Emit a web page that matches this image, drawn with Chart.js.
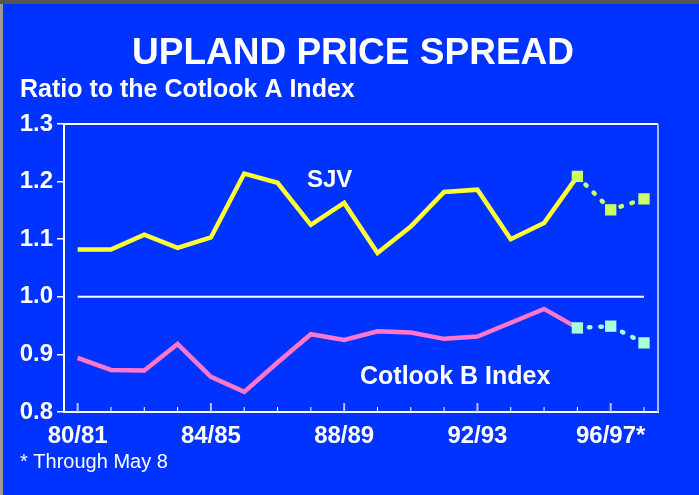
<!DOCTYPE html>
<html>
<head>
<meta charset="utf-8">
<script src="https://cdn.jsdelivr.net/npm/chart.js@4"></script>
<style>
  html, body { margin: 0; padding: 0; background: #0033ff; }
  canvas { display: block; }
</style>
</head>
<body>
<canvas id="chart" width="699" height="495"></canvas>
<script>
// sezone (marketinske godine)
const seasons = ['80/81', '81/82', '82/83', '83/84', '84/85', '85/86', '86/87', '87/88', '88/89',
                 '89/90', '90/91', '91/92', '92/93', '93/94', '94/95', '95/96', '96/97', '97/98'];
// oznake na x osi
const tickLabels = ['80/81', '', '', '', '84/85', '', '', '', '88/89',
                    '', '', '', '92/93', '', '', '', '96/97*', ''];

// omjer prema Cotlook A indeksu
const sjv = [1.082, 1.082, 1.108, 1.085, 1.103, 1.214, 1.198, 1.125, 1.163,
             1.076, 1.122, 1.182, 1.186, 1.100, 1.128, 1.209, 1.151, 1.170];
const cotlookB = [0.894, 0.873, 0.872, 0.918, 0.861, 0.835, 0.886, 0.935, 0.925,
                  0.940, 0.938, 0.927, 0.931, 0.955, 0.979, 0.946, 0.949, 0.920];

const parity = 1.0;
const projStart = 15; // od 95/96 dalje tockice

const WHITE = '#ffffff';
const BLUE = '#0033ff';
const FONT = '"Liberation Sans", Arial, Helvetica, sans-serif';

const toPts = (arr, from, to) => arr.slice(from, to).map((v, k) => ({ x: from + k, y: v }));

// tekstovi i okvir
const decorPlugin = {
    id: 'decor',
    beforeDraw(chart) {
        const ctx = chart.ctx;
        ctx.save();
        ctx.fillStyle = BLUE;
        ctx.fillRect(0, 0, chart.width, chart.height);
        ctx.fillStyle = '#9a9a9a';
        ctx.fillRect(0, 0, 3, chart.height);
        ctx.fillStyle = '#555555';
        ctx.fillRect(0, 0, chart.width, 4);
        ctx.restore();
    },
    afterDraw(chart) {
        const ctx = chart.ctx;
        const a = chart.chartArea;
        const x = chart.scales.x;
        ctx.save();
        // gornja i desna linija okvira
        ctx.strokeStyle = WHITE;
        ctx.lineWidth = 2;
        ctx.beginPath();
        ctx.moveTo(a.left, a.top);
        ctx.lineTo(a.right, a.top);
        ctx.stroke();
        ctx.strokeStyle = '#a8b4ff';
        ctx.beginPath();
        ctx.moveTo(a.right, a.top);
        ctx.lineTo(a.right, a.bottom);
        ctx.stroke();

        // crtice na x osi prema unutra
        seasons.forEach((s, i) => {
            const px = x.getPixelForValue(i);
            const len = tickLabels[i] ? 9 : 5;
            ctx.strokeStyle = tickLabels[i] ? '#b8c2ff' : WHITE;
            ctx.lineWidth = tickLabels[i] ? 2 : 1;
            ctx.beginPath();
            ctx.moveTo(px, a.bottom);
            ctx.lineTo(px, a.bottom - len);
            ctx.stroke();
        });

        ctx.fillStyle = WHITE;
        ctx.textBaseline = 'alphabetic';
        ctx.textAlign = 'center';
        ctx.font = 'bold 37px ' + FONT;
        ctx.fillText('UPLAND PRICE SPREAD', 353, 64);
        ctx.textAlign = 'left';
        ctx.font = 'bold 25px ' + FONT;
        ctx.fillText('Ratio to the Cotlook A Index', 20, 97);
        ctx.font = 'bold 24px ' + FONT;
        ctx.fillText('SJV', 307, 187);
        ctx.font = 'bold 25px ' + FONT;
        ctx.fillText('Cotlook B Index', 360, 384);
        ctx.font = '20px ' + FONT;
        ctx.fillText('* Through May 8', 20, 468);
        ctx.restore();
    }
};

new Chart(document.getElementById('chart').getContext('2d'), {
    type: 'line',
    data: {
        datasets: [
            {
                label: 'SJV projekcija',
                data: toPts(sjv, projStart),
                borderColor: '#ccff66',
                borderWidth: 4.5,
                borderDash: [1.5, 10],
                borderCapStyle: 'round',
                pointStyle: 'rect',
                pointRadius: 8,
                pointBackgroundColor: '#ccff66',
                pointBorderWidth: 0,
                order: 0
            },
            {
                label: 'Cotlook B projekcija',
                data: toPts(cotlookB, projStart),
                borderColor: '#a6ffdd',
                borderWidth: 4.5,
                borderDash: [1.5, 10],
                borderCapStyle: 'round',
                pointStyle: 'rect',
                pointRadius: 8,
                pointBackgroundColor: '#a6ffdd',
                pointBorderWidth: 0,
                order: 0
            },
            {
                label: 'SJV',
                data: toPts(sjv, 0, projStart + 1),
                borderColor: '#ffff33',
                borderWidth: 4.5,
                pointRadius: 0,
                order: 1
            },
            {
                label: 'Cotlook B Index',
                data: toPts(cotlookB, 0, projStart + 1),
                borderColor: '#ff77cc',
                borderWidth: 4.5,
                pointRadius: 0,
                order: 1
            },
            {
                label: 'Paritet',
                data: seasons.map((s, i) => ({ x: i, y: parity })),
                borderColor: WHITE,
                borderWidth: 2,
                pointRadius: 0,
                order: 2
            }
        ]
    },
    options: {
        responsive: false,
        animation: false,
        layout: { padding: { top: 124, right: 41, left: 0, bottom: 0 } },
        plugins: {
            legend: { display: false },
            tooltip: { enabled: false }
        },
        scales: {
            x: {
                type: 'linear',
                min: -0.41,
                max: 17.42,
                afterFit: s => { s.height = 83; },
                afterBuildTicks: s => { s.ticks = seasons.map((_, i) => ({ value: i })); },
                grid: { display: false, drawTicks: false },
                border: { display: true, color: WHITE, width: 2 },
                ticks: {
                    autoSkip: false,
                    maxRotation: 0,
                    padding: 10,
                    color: WHITE,
                    font: { family: FONT, size: 24, weight: 'bold' },
                    callback: v => tickLabels[v] || ''
                }
            },
            y: {
                min: 0.8,
                max: 1.3,
                afterFit: s => { s.width = 64; },
                grid: { drawOnChartArea: false, color: WHITE, tickLength: 7, lineWidth: 1.5 },
                border: { display: true, color: WHITE, width: 2 },
                ticks: {
                    stepSize: 0.05,
                    padding: 4,
                    color: WHITE,
                    font: { family: FONT, size: 24, weight: 'bold' },
                    callback: v => (Math.round(v * 100) % 10 === 0) ? v.toFixed(1) : ''
                }
            }
        }
    },
    plugins: [decorPlugin]
});
</script>
</body>
</html>
